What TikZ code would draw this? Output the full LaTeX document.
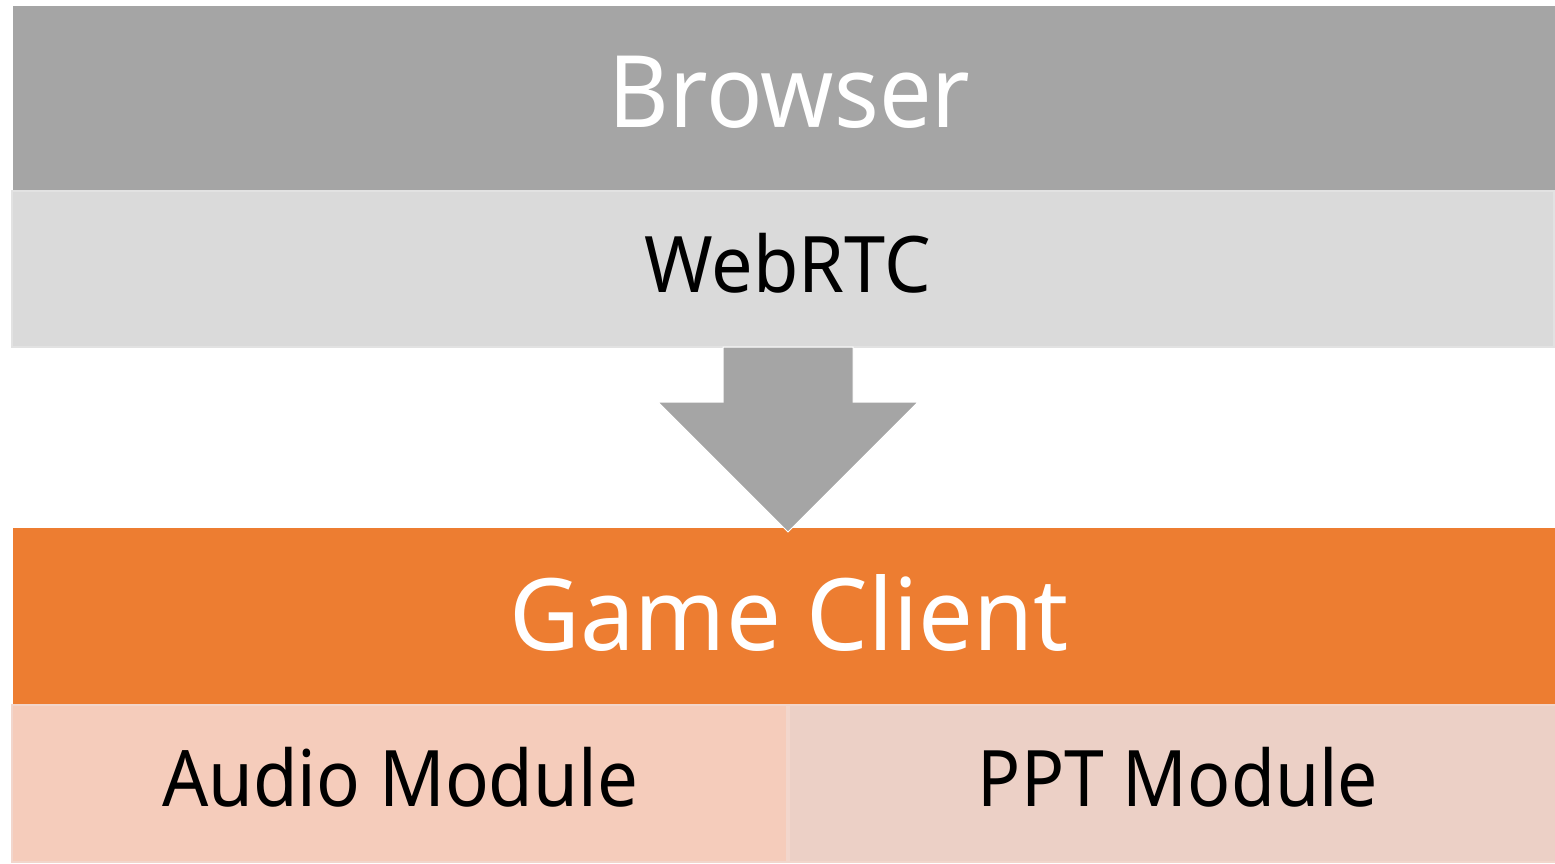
\documentclass[tikz,border=0pt]{standalone}
\usepackage{fontspec}
\setmainfont{Noto Sans}
\definecolor{bgray}{HTML}{A5A5A5}
\definecolor{lgray}{HTML}{DADADA}
\definecolor{lborder}{HTML}{E2E2E2}
\definecolor{gorange}{HTML}{ED7D31}
\definecolor{audiofill}{HTML}{F5CCBB}
\definecolor{pptfill}{HTML}{ECD0C6}
\definecolor{modborder}{HTML}{F2D6CC}
\begin{document}
\begin{tikzpicture}[x=1pt,y=-1pt,
  box/.style={rectangle, inner sep=0pt, outer sep=0pt},
  bigtext/.style={anchor=base, inner sep=0pt, font=\fontsize{100}{110}\selectfont},
  midtext/.style={anchor=base, inner sep=0pt, font=\fontsize{78}{90}\selectfont}]
\useasboundingbox (0,0) rectangle (1555,863);
% boxes
\node[box, fill=bgray, minimum width=1542pt, minimum height=184pt] (browser) at (784,98) {};
\node[box, fill=lgray, draw=lborder, line width=2pt, minimum width=1542pt, minimum height=156pt] (webrtc) at (783,268.5) {};
\node[box, fill=gorange, minimum width=1542pt, minimum height=176pt] (game) at (784,616) {};
\node[box, fill=audiofill, draw=modborder, line width=2pt, minimum width=775pt, minimum height=157pt] (audio) at (399.5,783) {};
\node[box, fill=pptfill, draw=modborder, line width=2pt, minimum width=767pt, minimum height=157pt] (ppt) at (1172,783) {};
% arrow
\coordinate (atip) at (788,532);
\fill[bgray, draw=white, line width=1pt] (723,347) -- (853,347) -- (853,402) -- (918,402) -- (atip) -- (658,402) -- (723,402) -- cycle;
% texts
\node[bigtext, text=white] (tbrowser) at (789.5,127) {\scalebox{0.934}[1]{Browser}};
\node[midtext, text=black] (twebrtc) at (787.5,292) {\scalebox{0.947}[1]{WebRTC}};
\node[bigtext, text=white] (tgame) at (789,650) {\scalebox{0.975}[1]{Game Client}};
\node[midtext, text=black] (taudio) at (400,806) {\scalebox{0.93}[1]{Audio Module}};
\node[midtext, text=black] (tppt) at (1178,806) {\scalebox{0.917}[1]{PPT Module}};
\end{tikzpicture}
\end{document}
